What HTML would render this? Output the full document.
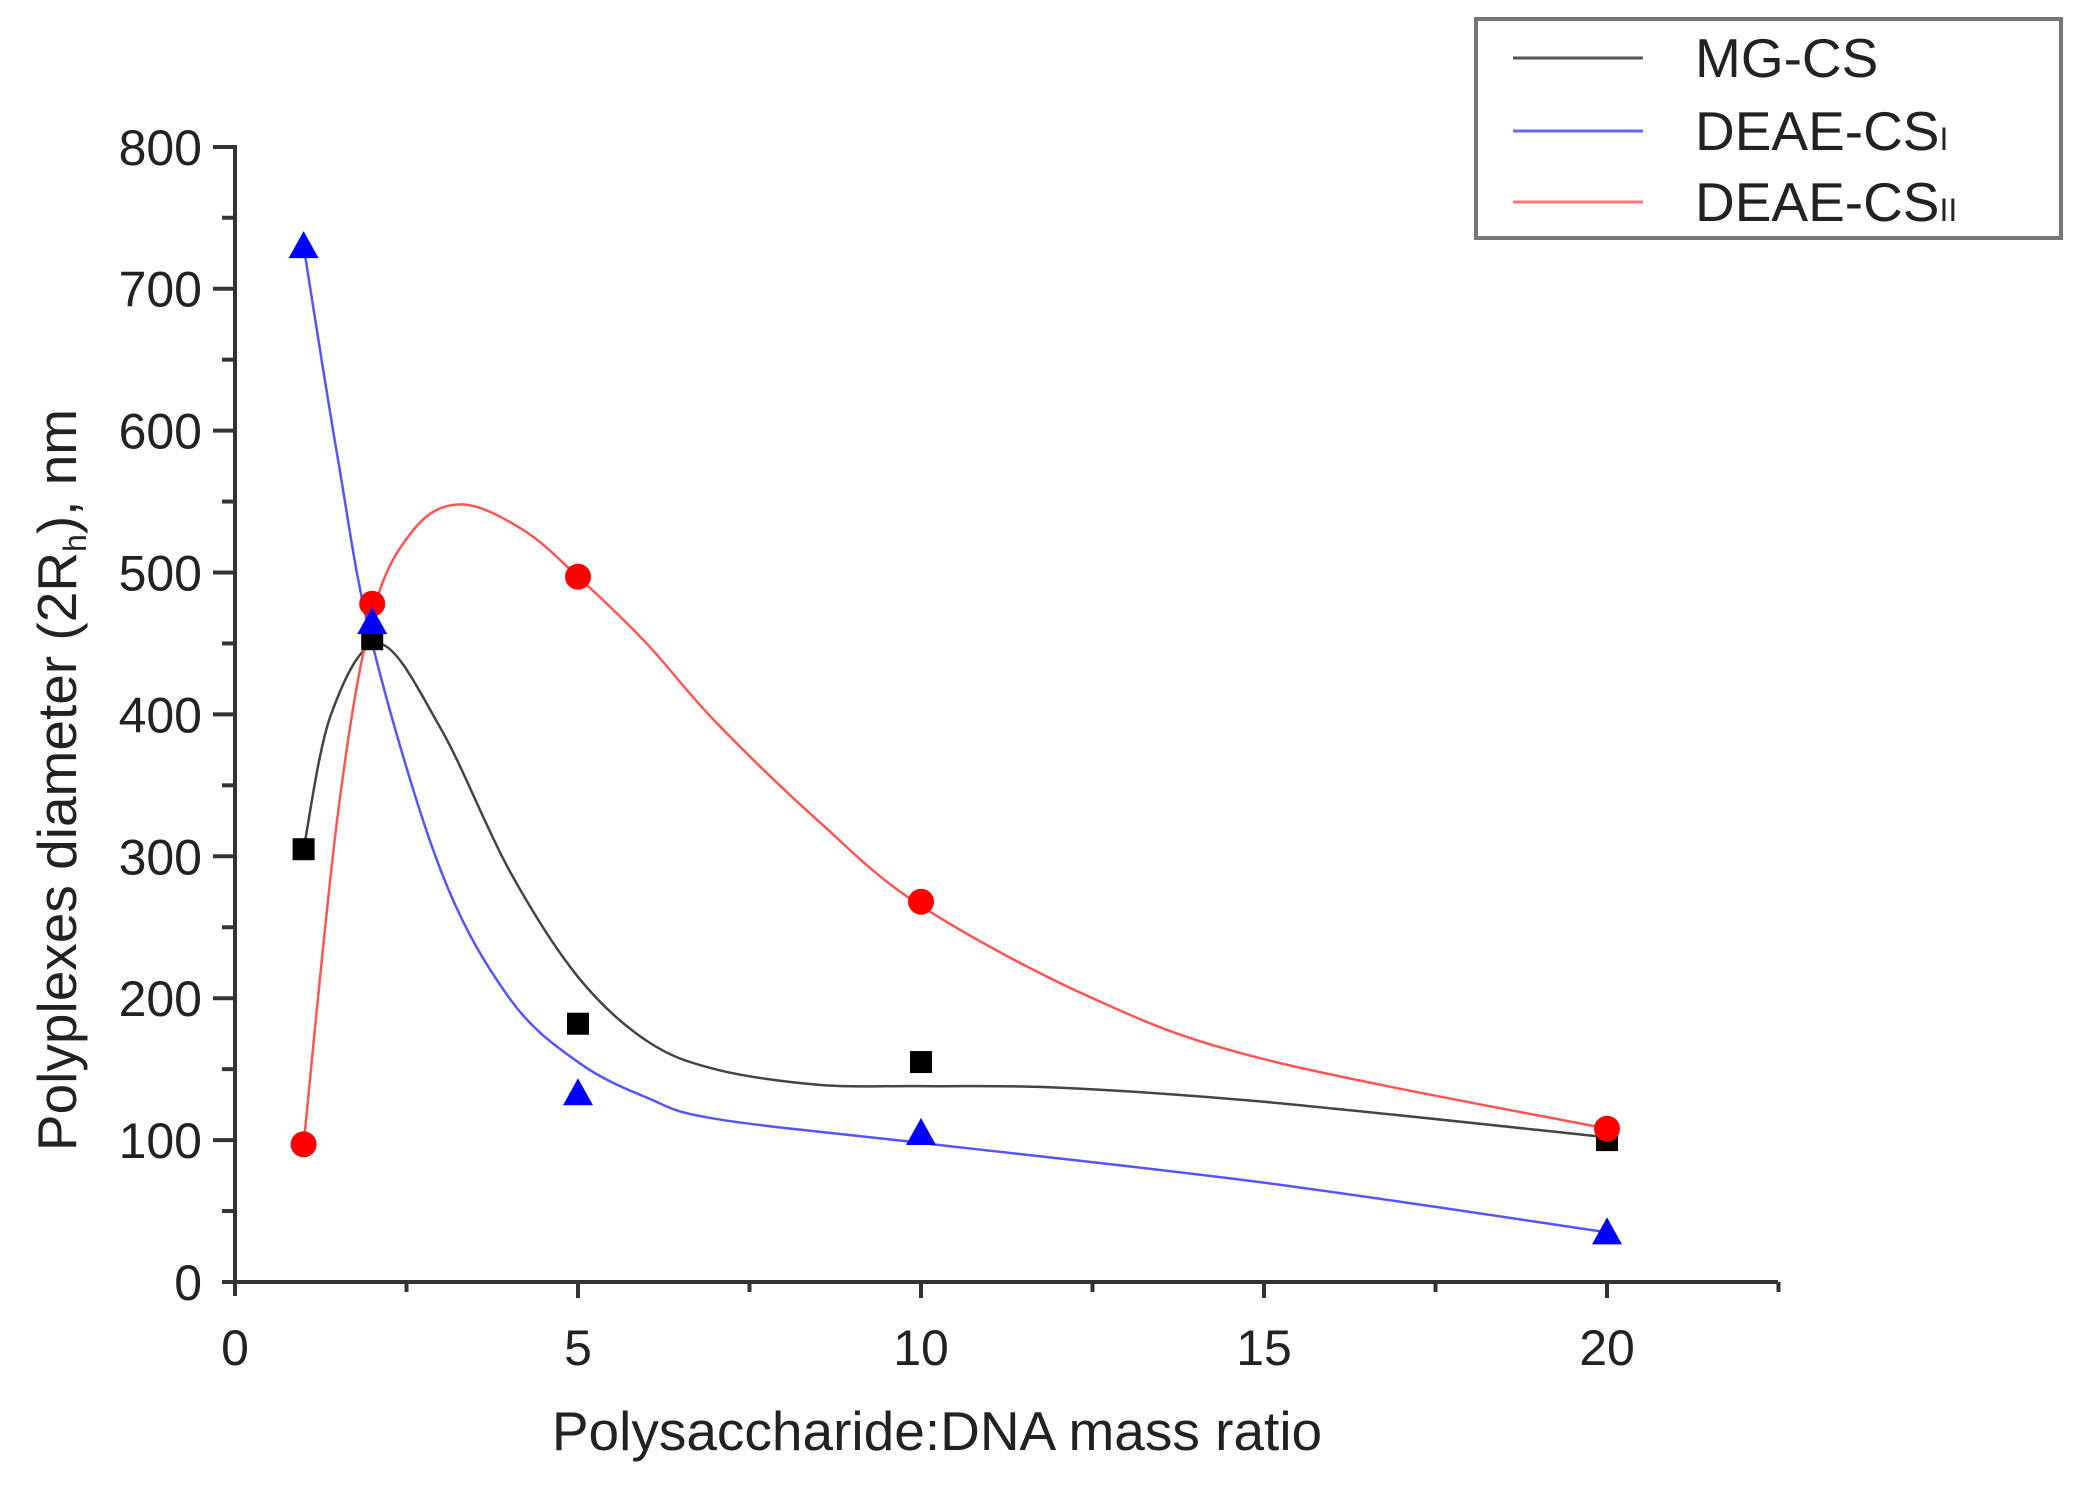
<!DOCTYPE html>
<html><head><meta charset="utf-8"><style>
body{margin:0;background:#fff}
svg{display:block}
text{font-family:"Liberation Sans",sans-serif;fill:#222}
</style></head><body>
<svg id="s" width="2081" height="1487" viewBox="0 0 2081 1487" xmlns="http://www.w3.org/2000/svg">
<g stroke="#333" stroke-width="4" fill="none">
<line x1="235" y1="145" x2="235" y2="1296"/>
<line x1="222" y1="1282" x2="1778" y2="1282"/>
<line x1="213" y1="147" x2="235" y2="147"/>
</g>
<g id="ticks" stroke="#333" stroke-width="4"></g>
<g id="labels" font-size="50" text-anchor="end"></g>
<g id="xl" font-size="50" text-anchor="middle"></g>
<text x="937" y="1450" font-size="55" text-anchor="middle">Polysaccharide:DNA mass ratio</text>
<text transform="translate(76,780) rotate(-90)" font-size="55" text-anchor="middle">Polyplexes diameter (2R<tspan font-size="32" dy="10">h</tspan><tspan dy="-10">), nm</tspan></text>
<g id="curves" fill="none" stroke-width="2.5"></g>
<g id="marks"></g>
<rect x="1476" y="19" width="585" height="219" fill="#fff" stroke="#777" stroke-width="4"/>
<line x1="1513" y1="58" x2="1643" y2="58" stroke="#555" stroke-width="3"/>
<line x1="1513" y1="131" x2="1643" y2="131" stroke="#66f" stroke-width="3"/>
<line x1="1513" y1="202" x2="1643" y2="202" stroke="#f77" stroke-width="3"/>
<g font-size="55">
<text x="1695" y="77">MG-CS</text>
<text x="1695" y="150">DEAE-CS<tspan font-size="32">I</tspan></text>
<text x="1695" y="221">DEAE-CS<tspan font-size="32">II</tspan></text>
</g>
</svg>
<script>
var X=function(x){return 235+68.6*x},Y=function(y){return 1282-1.419*y};
var ns="http://www.w3.org/2000/svg";
function el(p,t,a){var e=document.createElementNS(ns,t);for(var k in a)e.setAttribute(k,a[k]);document.getElementById(p).appendChild(e);return e;}
for(var v=0;v<=800;v+=50){var y=Y(v),big=v%100==0;if(v>0&&v<800)el("ticks","line",{x1:big?213:222,y1:y,x2:235,y2:y});
if(big){var t=el("labels","text",{x:202,y:y+18});t.textContent=v;}}
for(var x=2.5;x<=22.5;x+=2.5){var big=x%5==0;el("ticks","line",{x1:X(x),y1:1282,x2:X(x),y2:big?1298:1292});}
[0,5,10,15,20].forEach(function(x){var t=el("xl","text",{x:X(x),y:1365});t.textContent=x;});
function cr(pts){var P=pts.map(function(p){return [X(p[0]),Y(p[1])]});var d="M"+P[0];
for(var i=0;i<P.length-1;i++){var p0=P[i-1]||P[i],p1=P[i],p2=P[i+1],p3=P[i+2]||P[i+1];
d+=" C"+(p1[0]+(p2[0]-p0[0])/6)+","+(p1[1]+(p2[1]-p0[1])/6)+" "+(p2[0]-(p3[0]-p1[0])/6)+","+(p2[1]-(p3[1]-p1[1])/6)+" "+p2[0]+","+p2[1];}return d;}
el("curves","path",{stroke:"#444",d:cr([[1,305],[1.4,400],[2.1,450],[3,390],[4,290],[5,215],[6,170],[7,150],[8.5,139],[10,138],[12,137],[15,127],[20,102]])});
el("curves","path",{stroke:"#55f",d:cr([[1,730],[1.5,580],[2,450],[3,290],[4,200],[5,155],[6,130],[7,115],[10,98],[15,70],[20,35]])});
el("curves","path",{stroke:"#f55",d:cr([[1,97],[1.5,330],[2,470],[2.6,530],[3.3,548],[4.2,530],[5,497],[6,450],[7,395],[8.5,325],[10,265],[12.5,200],[15,157],[20,108]])});
[[1,305],[2,453],[5,182],[10,155],[20,100]].forEach(function(p){el("marks","rect",{x:X(p[0])-11,y:Y(p[1])-11,width:22,height:22,fill:"#000"});});
[[1,97],[2,478],[5,497],[10,268],[20,108]].forEach(function(p){el("marks","circle",{cx:X(p[0]),cy:Y(p[1]),r:13,fill:"#f00"});});
[[1,730],[2,465],[5,133],[10,105],[20,35]].forEach(function(p){var x=X(p[0]),y=Y(p[1]);el("marks","polygon",{points:(x-15)+","+(y+12)+" "+(x+15)+","+(y+12)+" "+x+","+(y-15),fill:"#00f"});});
</script>
</body></html>
